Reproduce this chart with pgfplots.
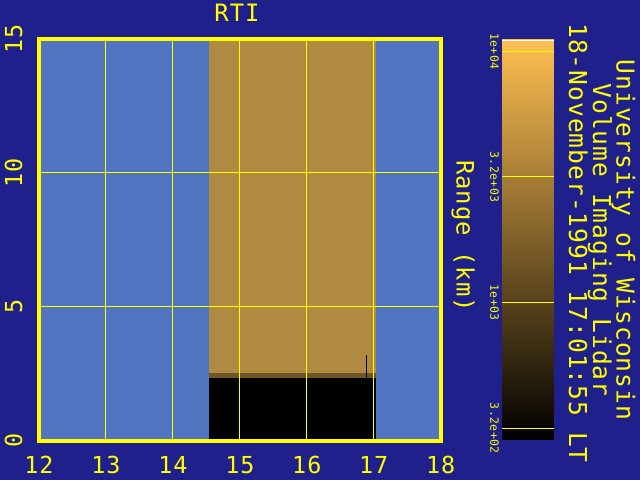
\documentclass[border=0pt]{standalone}
\usepackage{pgfplots}
\pgfplotsset{compat=1.18}
\usepackage{fontspec}
\newfontfamily\monofont[LetterSpace=4]{DejaVu Sans Mono}
\definecolor{bgblue}{RGB}{32,32,140}
\definecolor{lblue}{RGB}{80,116,192}
\definecolor{gold}{RGB}{176,138,64}
\definecolor{band}{RGB}{110,86,40}
\definecolor{ylw}{RGB}{255,255,0}
\begin{document}
\begin{tikzpicture}
\useasboundingbox (0,0) rectangle (640bp,480bp);
\fill[bgblue] (0,0) rectangle (640bp,480bp);
\begin{axis}[
  at={(39bp,39.3bp)}, anchor=south west,
  scale only axis, width=401.7bp, height=401.7bp,
  xmin=12, xmax=18, ymin=0, ymax=15,
  xtick={12,13,14,15,16,17,18}, xticklabels={12,13,14,15,16,17,18},
  ytick={0,5,10,15}, yticklabels={0,5,10,15},
  /pgf/number format/assume math mode=true,
  axis background/.style={fill=lblue},
  axis line style={ylw, line width=4bp},
  grid=major, grid style={ylw, line width=1bp},
  major tick length=0pt,
  axis on top,
  tick label style={font=\fontsize{23.5}{24}\selectfont\monofont, text=ylw, inner sep=0pt},
  xticklabel style={anchor=base, yshift=-32.6bp},
  yticklabel style={xshift=-17bp, rotate=90, anchor=base},
]
\addplot[fill=gold, draw=none] coordinates {(14.535,2.45) (17.036,2.45) (17.036,15) (14.535,15)} -- cycle;
\addplot[fill=band, draw=none] coordinates {(14.535,2.33) (17.036,2.33) (17.036,2.52) (14.535,2.52)} -- cycle;
\addplot[fill=black, draw=none] coordinates {(14.535,0) (17.036,0) (17.036,2.33) (14.535,2.33)} -- cycle;
\addplot[black, line width=1.2bp] coordinates {(16.895,2.33) (16.895,3.2)};
\end{axis}
\begin{axis}[
  at={(502bp,40bp)}, anchor=south west,
  scale only axis, width=52bp, height=401bp,
  view={0}{90},
  xmin=0, xmax=1, ymin=2.4534, ymax=4.049, zmin=-1, zmax=1,
  xtick=\empty, ztick=\empty,
  ytick={2.5,3,3.5,4}, yticklabels={3.2e+02,1e+03,3.2e+03,1e+04},
  axis line style={draw=none},
  ymajorgrids, grid style={ylw, line width=1bp},
  major tick length=0pt,
  axis on top,
  colormap={cb}{rgb255=(0,0,0) rgb255=(255,192,82)},
  point meta min=2.4534, point meta max=4.049,
  yticklabel style={font=\fontsize{11.5}{12}\selectfont\monofont, text=ylw, inner sep=0pt, xshift=-3bp, rotate=-90, anchor=north},
]
\addplot3[surf, shader=interp, point meta=y] coordinates {
(0,2.4534,0) (1,2.4534,0)

(0,4.049,0) (1,4.049,0)
};
\addplot3[white, line width=1bp] coordinates {(0,4.045,0) (1,4.045,0)};
\end{axis}
\node[anchor=base, text=ylw, font=\fontsize{24}{24}\selectfont\monofont] at (237bp,458bp) {RTI};
\node[anchor=base, rotate=-90, text=ylw, font=\fontsize{24}{24}\selectfont\monofont] at (456.7bp,244bp) {Range (km)};
\node[anchor=base, rotate=-90, text=ylw, font=\fontsize{24.7}{25}\selectfont\monofont] at (616.7bp,240bp) {University of Wisconsin};
\node[anchor=base, rotate=-90, text=ylw, font=\fontsize{24.7}{25}\selectfont\monofont] at (593bp,240bp) {Volume Imaging Lidar};
\node[anchor=base, rotate=-90, text=ylw, font=\fontsize{24.7}{25}\selectfont\monofont] at (569bp,237bp) {18-November-1991 17:01:55 LT};
\end{tikzpicture}
\end{document}
